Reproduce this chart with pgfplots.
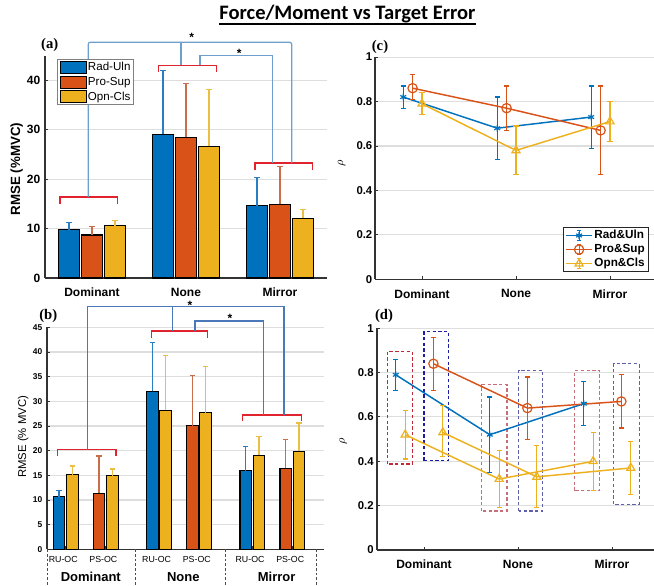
\documentclass[border=0pt]{standalone}
\usepackage{fontspec}
\setmainfont{Liberation Sans}
\newfontfamily\titlefont{Carlito}
\newfontfamily\labfont{Liberation Serif}
\usepackage{pgfplots}
\pgfplotsset{compat=1.18}
\usetikzlibrary{plotmarks}

\definecolor{mblue}{RGB}{0,114,189}
\definecolor{morange}{RGB}{217,83,25}
\definecolor{myellow}{RGB}{237,177,32}
\definecolor{ebblue}{RGB}{40,125,195}
\definecolor{eborange}{RGB}{200,110,75}
\definecolor{ebyellow}{RGB}{235,190,70}
\definecolor{brk}{RGB}{225,35,45}
\definecolor{linka}{RGB}{110,160,205}
\definecolor{linkb}{RGB}{75,120,185}
\definecolor{gridc}{RGB}{222,222,222}
\definecolor{boxred}{RGB}{190,40,55}
\definecolor{boxblue}{RGB}{30,30,165}
\definecolor{boxredl}{RGB}{200,110,120}
\definecolor{boxbluel}{RGB}{95,95,170}

\newcommand{\fs}[1]{\fontsize{#1}{#1}\selectfont}

\pgfplotsset{
  panel/.style={
    scale only axis, anchor=south west,
    axis lines*=left,
    axis line style={black!80, line width=0.9pt},
    tick align=inside, major tick length=2.5pt,
    tick style={black!80, line width=0.7pt},
    ymajorgrids, grid style={gridc, line width=0.8pt},
    clip=false,
    /pgf/number format/assume math mode=true,
    tick label style={font=\bfseries\fs{9}},
    xticklabel style={yshift=-4pt},
  },
  mbar/.style 2 args={ybar, bar width=#2, bar shift=0pt, fill=#1, draw=black, line width=0.8pt,
    legend image code/.code={\draw[fill=#1,draw=black,line width=0.7pt] (0pt,-4.5pt) rectangle (19.5pt,4.5pt);}},
  eb/.style={/pgfplots/error bars/error bar style={#1, line width=0.9pt},
    /pgfplots/error bars/error mark options={rotate=90, #1, line width=0.9pt, mark size=2pt}},
  rholine/.style={color=#1, line width=1.1pt, mark options={solid, line width=0.9pt}},
}

% group bracket and significance star helpers
\newcommand{\grp}[4]{\draw[brk, line width=1.1pt] (axis cs:#1,#4) |- (axis cs:#2,#3) -- (axis cs:#2,#4);}
\newcommand{\sigstar}[2]{\node[font=\bfseries\fs{9}, yshift=-2pt] at (axis cs:#1,#2) {*};}

\begin{document}
\begin{tikzpicture}
\path[use as bounding box] (0,0) rectangle (490.5pt,439.5pt);

\node[font=\titlefont\bfseries\fs{15.4}, anchor=base, inner sep=0pt] (T) at (260.6pt,424.5pt) {Force/Moment vs Target Error};
\draw[line width=1.1pt] ([yshift=-3pt]T.base west) -- ([yshift=-3pt]T.base east);

%% (a) RMSE per feedback condition
\begin{axis}[panel, at={(33.75pt,231pt)}, width=211.5pt, height=166.8pt,
  xmin=0.5, xmax=3.5, ymin=0, ymax=45,
  xtick={1,2,3}, xticklabels={Dominant,None,Mirror},
  ytick={0,10,20,30,40},
  ylabel={RMSE (\%MVC)},
  ylabel style={at={(axis description cs:-0.1,0.49)}, anchor=center, font=\bfseries\fs{10}},
  error bars/y dir=plus, error bars/y explicit,
  legend style={at={(axis description cs:0.0436,0.983)}, anchor=north west,
    draw=black!50, line width=0.6pt, fill=white, font=\fontsize{8.7}{9}\selectfont,
    inner xsep=1.5pt, inner ysep=1pt, row sep=1.2pt,
    nodes={inner sep=1pt}},
  legend cell align=left,
]
\addplot[mbar={mblue}{0.22}, eb=ebblue] coordinates {(0.755,9.8) +- (0,1.5) (1.755,29.1) +- (0,12.9) (2.755,14.6) +- (0,5.8)};
\addlegendentry{Rad-Uln}
\addplot[mbar={morange}{0.22}, eb=eborange] coordinates {(1,8.7) +- (0,1.7) (2,28.5) +- (0,10.8) (3,14.9) +- (0,7.7)};
\addlegendentry{Pro-Sup}
\addplot[mbar={myellow}{0.22}, eb=ebyellow] coordinates {(1.245,10.6) +- (0,1.0) (2.245,26.7) +- (0,11.5) (3.245,12.1) +- (0,1.7)};
\addlegendentry{Opn-Cls}
\grp{0.66}{1.273}{16.4}{15.0}
\grp{1.705}{2.327}{43.0}{41.6}
\grp{2.734}{3.344}{23.3}{21.9}
\draw[linka, line width=0.9pt, rounded corners=1.5pt] (axis cs:0.96,16.4) |- (axis cs:3.124,47.7) -- (axis cs:3.124,23.3);
\draw[linka, line width=0.9pt] (axis cs:1.947,47.7) -- (axis cs:1.947,43.0);
\draw[linka, line width=0.9pt] (axis cs:2.149,43.0) |- (axis cs:2.922,45.1) -- (axis cs:2.922,23.3);
\sigstar{2.06}{49.2}
\sigstar{2.567}{46.0}
\end{axis}
\node[font=\labfont\bfseries\fs{11}] at (37.3pt,406pt) {(a)};

%% (c) correlation per feedback condition
\begin{axis}[panel, at={(281.25pt,230pt)}, width=209.25pt, height=166.7pt,
  xmin=0.5, xmax=3.468, ymin=0, ymax=1,
  xtick={1,2,3}, xticklabels={Dominant,None,Mirror},
  ytick={0,0.2,0.4,0.6,0.8,1},
  yticklabel style={font=\bfseries\fs{8.5}, xshift=1.5pt},
  ylabel={$\rho$}, ylabel style={at={(axis description cs:-0.119,0.523)}, anchor=center, font=\fs{9}},
  error bars/y dir=both, error bars/y explicit,
  error bars/error bar style={line width=0.9pt},
  error bars/error mark options={rotate=90, line width=0.9pt, mark size=2pt},
  legend style={at={(axis description cs:0.98,0.033)}, anchor=south east,
    draw=black!85, line width=0.6pt, fill=white, font=\bfseries\fs{8.8},
    inner xsep=1.5pt, inner ysep=1pt, row sep=0.8pt, nodes={inner sep=1pt}},
  legend cell align=left,
  legend image code/.code={
    \draw[#1, mark=none] (0pt,0pt) -- (20pt,0pt);
    \draw[#1, mark=none, line width=0.8pt] (10pt,-3.8pt) -- (10pt,3.8pt) (8.3pt,-3.8pt) -- (11.7pt,-3.8pt) (8.3pt,3.8pt) -- (11.7pt,3.8pt);
    \draw[#1] plot coordinates {(10pt,0pt)};
  },
]
\addplot[rholine=mblue, mark=asterisk, mark size=2.5pt] coordinates {
  (0.8,0.82) += (0,0.05) -= (0,0.05)
  (1.8,0.68) += (0,0.14) -= (0,0.14)
  (2.8,0.73) += (0,0.14) -= (0,0.14)};
\addlegendentry{Rad\&Uln}
\addplot[rholine=morange, mark=o, mark size=3.5pt] coordinates {
  (0.9,0.86) += (0,0.06) -= (0,0.05)
  (1.9,0.77) += (0,0.10) -= (0,0.10)
  (2.9,0.67) += (0,0.20) -= (0,0.20)};
\addlegendentry{Pro\&Sup}
\addplot[rholine=myellow, mark=triangle, mark size=3.5pt] coordinates {
  (1,0.79) += (0,0.05) -= (0,0.05)
  (2,0.58) += (0,0.11) -= (0,0.11)
  (3,0.71) += (0,0.09) -= (0,0.09)};
\addlegendentry{Opn\&Cls}
\end{axis}
\node[font=\labfont\bfseries\fs{11}] at (285pt,404.5pt) {(c)};

%% (b) RMSE with the open/close task paired
\begin{axis}[panel, at={(35.25pt,27.5pt)}, width=207.75pt, height=166.5pt,
  xmin=0.586, xmax=3.552, ymin=0, ymax=45,
  xtick={0.785,1.215,1.785,2.215,2.785,3.215}, xticklabels={},
  ytick={0,5,10,15,20,25,30,35,40,45},
  yticklabel style={font=\bfseries\fs{6.3}},
  ylabel={RMSE (\% MVC)},
  ylabel style={at={(axis description cs:-0.0856,0.507)}, anchor=center, font=\fs{8.5}},
  error bars/y dir=plus, error bars/y explicit,
]
\addplot[mbar={mblue}{0.125}, eb=ebblue] coordinates {(0.715,10.7) +- (0,1.3) (1.715,32.0) +- (0,10.0) (2.715,15.9) +- (0,5.0)};
\addplot[mbar={myellow}{0.125}, eb=ebyellow] coordinates {(0.857,15.1) +- (0,1.8) (1.857,28.2) +- (0,11.1) (2.857,19.1) +- (0,3.7)};
\addplot[mbar={morange}{0.125}, eb=eborange] coordinates {(1.143,11.4) +- (0,7.5) (2.143,25.1) +- (0,10.2) (3.143,16.4) +- (0,5.9)};
\addplot[mbar={myellow}{0.125}, eb=ebyellow] coordinates {(1.285,14.9) +- (0,1.4) (2.285,27.7) +- (0,9.3) (3.285,19.9) +- (0,5.7)};
\grp{0.696}{1.325}{20.2}{19.0}
\grp{1.707}{2.302}{44.3}{42.9}
\grp{2.681}{3.313}{27.2}{26.0}
\draw[linkb, line width=0.9pt] (axis cs:1.018,20.2) |- (axis cs:3.124,49.2) -- (axis cs:3.124,27.2);
\draw[linkb, line width=0.9pt] (axis cs:1.932,49.2) -- (axis cs:1.932,44.3);
\draw[linkb, line width=0.9pt] (axis cs:2.171,44.3) |- (axis cs:2.902,46.3) -- (axis cs:2.902,27.2);
\sigstar{2.117}{50.0}
\sigstar{2.546}{47.3}
% task and condition labels under the axis
\node[font=\fs{6.6}] at (axis cs:0.76,-2.0) {RU-OC};
\node[font=\fs{6.6}] at (axis cs:1.19,-2.0) {PS-OC};
\node[font=\fs{6.6}] at (axis cs:1.76,-2.0) {RU-OC};
\node[font=\fs{6.6}] at (axis cs:2.19,-2.0) {PS-OC};
\node[font=\fs{6.6}] at (axis cs:2.76,-2.0) {RU-OC};
\node[font=\fs{6.6}] at (axis cs:3.19,-2.0) {PS-OC};
\node[font=\bfseries\fs{9.75}] at (axis cs:1.055,-5.6) {Dominant};
\node[font=\bfseries\fs{9.75}] at (axis cs:2.045,-5.6) {None};
\node[font=\bfseries\fs{9.75}] at (axis cs:3.045,-5.6) {Mirror};
\draw[black!70, line width=0.6pt, dash pattern=on 2pt off 1.5pt] (axis cs:0.586,0) -- (axis cs:0.586,-7.6);
\draw[black!70, line width=0.6pt, dash pattern=on 2pt off 1.5pt] (axis cs:1.535,0) -- (axis cs:1.535,-7.6);
\draw[black!70, line width=0.6pt, dash pattern=on 2pt off 1.5pt] (axis cs:2.5,0) -- (axis cs:2.5,-7.6);
\draw[black!70, line width=0.6pt, dash pattern=on 2pt off 1.5pt] (axis cs:3.47,0) -- (axis cs:3.47,-7.6);
\end{axis}
\node[font=\labfont\bfseries\fs{11}] at (36.2pt,202.5pt) {(b)};

%% (d) correlation with the open/close task paired
\begin{axis}[panel, at={(282.75pt,27pt)}, width=207.75pt, height=166.3pt,
  xmin=0.5, xmax=3.447, ymin=0, ymax=1,
  xtick={1,2,3}, xticklabels={Dominant,None,Mirror},
  ytick={0,0.2,0.4,0.6,0.8,1},
  yticklabel style={font=\bfseries\fs{8.5}, xshift=1pt},
  ylabel={$\rho$}, ylabel style={at={(axis description cs:-0.122,0.489)}, anchor=center, font=\fs{9}},
  error bars/y dir=both, error bars/y explicit,
  error bars/error bar style={line width=0.9pt},
  error bars/error mark options={rotate=90, line width=0.9pt, mark size=2pt},
]
\draw[boxred, line width=0.8pt, dash pattern=on 2.5pt off 1.8pt] (axis cs:0.609,0.388) rectangle (axis cs:0.875,0.895);
\draw[boxblue, line width=0.8pt, dash pattern=on 2.5pt off 1.8pt] (axis cs:1.0,0.403) rectangle (axis cs:1.26,0.985);
\draw[boxredl, line width=0.8pt, dash pattern=on 2.5pt off 1.8pt] (axis cs:1.616,0.176) rectangle (axis cs:1.883,0.745);
\draw[boxbluel, line width=0.8pt, dash pattern=on 2.5pt off 1.8pt] (axis cs:2.007,0.176) rectangle (axis cs:2.263,0.81);
\draw[boxredl, line width=0.8pt, dash pattern=on 2.5pt off 1.8pt] (axis cs:2.605,0.268) rectangle (axis cs:2.872,0.81);
\draw[boxbluel, line width=0.8pt, dash pattern=on 2.5pt off 1.8pt] (axis cs:3.02,0.206) rectangle (axis cs:3.288,0.84);
\addplot[rholine=mblue, mark=asterisk, mark size=2.5pt] coordinates {
  (0.7,0.79) += (0,0.07) -= (0,0.07)
  (1.7,0.52) += (0,0.17) -= (0,0.17)
  (2.7,0.66) += (0,0.10) -= (0,0.10)};
\addplot[rholine=myellow, mark=triangle, mark size=3.5pt] coordinates {
  (0.8,0.52) += (0,0.11) -= (0,0.11)
  (1.8,0.32) += (0,0.13) -= (0,0.13)
  (2.8,0.40) += (0,0.13) -= (0,0.13)};
\addplot[rholine=morange, mark=o, mark size=3.5pt] coordinates {
  (1.1,0.84) += (0,0.12) -= (0,0.12)
  (2.1,0.64) += (0,0.14) -= (0,0.14)
  (3.1,0.67) += (0,0.12) -= (0,0.12)};
\addplot[rholine=myellow, mark=triangle, mark size=3.5pt] coordinates {
  (1.2,0.53) += (0,0.12) -= (0,0.11)
  (2.2,0.33) += (0,0.14) -= (0,0.14)
  (3.2,0.37) += (0,0.12) -= (0,0.12)};
\end{axis}
\node[font=\labfont\bfseries\fs{11}] at (288pt,202.5pt) {(d)};
\end{tikzpicture}
\end{document}
